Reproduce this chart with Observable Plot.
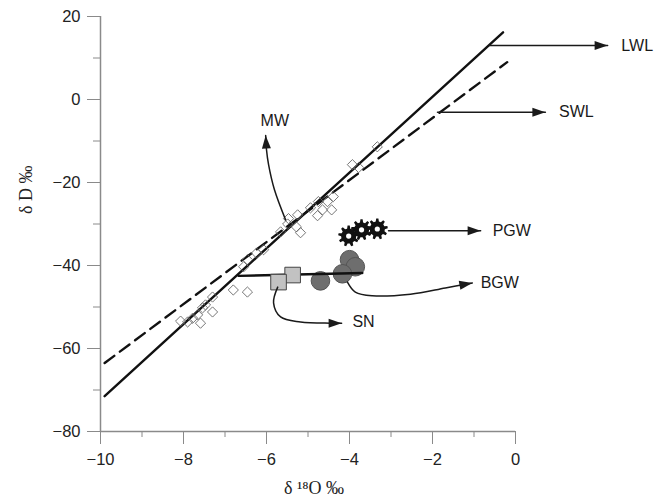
<!DOCTYPE html>
<html>
<head>
<meta charset="utf-8">
<script src="https://cdn.jsdelivr.net/npm/d3@7"></script>
<script src="https://cdn.jsdelivr.net/npm/@observablehq/plot@0.6"></script>
<style>
  html, body { margin: 0; padding: 0; background: #fff; }
  #chart g[aria-label$="tick label"] { font-size: 16.5px; }
</style>
</head>
<body>
<div id="chart"></div>
<script>
// ---------- data ----------
const xTicksMajor = [-10, -8, -6, -4, -2, 0];
const xTicksMinor = [-9, -7, -5, -3, -1];
const yTicksMajor = [20, 0, -20, -40, -60, -80];
const yTicksMinor = [10, -10, -30, -50, -70];

// precipitation / meteoric water samples (open diamonds)
const mwX = [-3.33, -3.93, -3.78, -4.39, -4.53, -4.75, -4.94, -4.65, -4.43, -4.77,
             -5.25, -5.47, -5.49, -5.28, -5.18, -5.66, -6.07, -6.24, -6.46, -6.55,
             -6.80, -6.46, -7.30, -7.47, -7.30, -7.54, -7.66, -7.78, -7.59, -7.90, -8.07];
const mwY = [-11.4, -15.7, -16.4, -23.4, -24.6, -24.6, -26.1, -26.6, -26.6, -28.0,
             -27.8, -28.7, -30.0, -30.7, -32.1, -31.9, -36.2, -37.0, -38.6, -40.3,
             -45.9, -46.4, -47.6, -49.5, -51.2, -50.2, -51.9, -52.7, -53.9, -53.6, -53.4];

// snow (grey squares)
const snX = [-5.37, -5.71];
const snY = [-42.3, -44.0];

// basin groundwater (dark circles)
const bgwX = [-4.00, -3.86, -4.17, -4.70];
const bgwY = [-38.6, -40.3, -42.0, -43.7];

// permafrost groundwater (gears)
const pgwX = [-4.02, -3.71, -3.33];
const pgwY = [-32.9, -31.4, -31.2];

// water lines
const lwlX = [-9.9, -0.3];
const lwlY = [-71.5, 16.2];
const swlX = [-9.9, -0.2];
const swlY = [-63.5, 9.0];
const mixX = [-6.67, -3.69];
const mixY = [-42.5, -41.8];

// callouts
const calloutNames = ["LWL", "SWL", "PGW", "BGW", "SN", "MW"];
const calloutLabelX = [2.55, 1.05, -0.55, -0.84, -3.93, -5.8];
const calloutLabelY = [13.0, -3.1, -31.6, -44.2, -53.6, -5.1];
const calloutAnchor = ["start", "start", "start", "start", "start", "middle"];
const calloutPathX = [
  [-0.63, 2.22],
  [-1.88, 0.72],
  [-3.06, -0.84],
  [-4.05, -3.86, -3.45, -2.53, -1.69, -1.04],
  [-5.73, -5.83, -5.66, -5.18, -4.46, -4.19],
  [-5.54, -5.81, -5.95, -6.00, -6.02]
];
const calloutPathY = [
  [13.0, 13.0],
  [-3.1, -3.1],
  [-31.6, -31.6],
  [-44.0, -46.4, -47.3, -46.9, -45.4, -44.2],
  [-45.2, -49.0, -52.4, -53.6, -53.9, -53.9],
  [-29.0, -21.7, -15.7, -12.1, -8.7]
];

// ---------- layout ----------
const W = 670, H = 504;
const mL = 100, mR = 155, mT = 16, mB = 73;
const xDomain = [-10, 0], yDomain = [-80, 20];
const kx = (W - mL - mR) / (xDomain[1] - xDomain[0]);
const ky = (H - mT - mB) / (yDomain[1] - yDomain[0]);

// ---------- custom symbols ----------
function arrowHead(angle) {
  return {
    draw(ctx) {
      const L = 13, w = 4.5;
      const c = Math.cos(angle), s = Math.sin(angle);
      const bx = -L * c, by = -L * s;
      ctx.moveTo(0, 0);
      ctx.lineTo(bx - w * s, by + w * c);
      ctx.lineTo(bx + w * s, by - w * c);
      ctx.closePath();
    }
  };
}
const gear = {
  draw(ctx, size) {
    const R = Math.sqrt(size / Math.PI);
    const r0 = R * 0.72;
    const n = 9, w = Math.PI / n;
    for (let i = 0; i < n; i++) {
      const a = i * 2 * Math.PI / n - Math.PI / 2;
      const pts = [[a - 0.6 * w, r0], [a - 0.3 * w, R], [a + 0.3 * w, R], [a + 0.6 * w, r0]];
      pts.forEach(([t, r], j) => {
        const px = r * Math.cos(t), py = r * Math.sin(t);
        if (i === 0 && j === 0) ctx.moveTo(px, py); else ctx.lineTo(px, py);
      });
    }
    ctx.closePath();
  }
};

// ---------- marks ----------
const sansFont = "Liberation Sans, Arial, Helvetica, sans-serif";
const serifFont = "Liberation Serif, Times New Roman, serif";
const ink = "#1a1a1a";

const calloutMarks = calloutNames.flatMap((name, i) => {
  const px = calloutPathX[i], py = calloutPathY[i];
  const n = px.length;
  const pts = d3.zip(px, py);
  const ang = Math.atan2(-(py[n - 1] - py[n - 2]) * ky, (px[n - 1] - px[n - 2]) * kx);
  return [
    Plot.line(pts, {curve: n > 2 ? "catmull-rom" : "linear", stroke: ink, strokeWidth: 1.5}),
    Plot.dot([pts[n - 1]], {symbol: arrowHead(ang), r: 5, fill: ink, stroke: "none"}),
    Plot.text([name], {x: [calloutLabelX[i]], y: [calloutLabelY[i]], text: d => d,
      textAnchor: calloutAnchor[i], fontSize: 16, fill: ink, fontFamily: sansFont})
  ];
});

const chart = Plot.plot({
  width: W,
  height: H,
  marginLeft: mL, marginRight: mR, marginTop: mT, marginBottom: mB,
  x: {domain: xDomain, axis: null},
  y: {domain: yDomain, axis: null},
  style: {fontFamily: sansFont, fontSize: "16px", background: "#fff", overflow: "visible"},
  marks: [
    // axis ticks
    Plot.axisY({ticks: yTicksMinor, tickSize: 7, tickFormat: () => "", stroke: "#8a8a8a", label: null}),
    Plot.axisY({ticks: yTicksMajor, tickSize: 13, tickFormat: () => "", stroke: "#8a8a8a", label: null}),
    Plot.axisY({ticks: yTicksMajor, tickSize: 0, tickPadding: 20, fill: "#222", fontSize: 16.5, label: null}),
    Plot.axisX({ticks: xTicksMinor, tickSize: 6, tickFormat: () => "", stroke: "#8a8a8a", label: null}),
    Plot.axisX({ticks: xTicksMajor, tickSize: 13, tickFormat: () => "", stroke: "#8a8a8a", label: null}),
    Plot.axisX({ticks: xTicksMajor, tickSize: 0, tickPadding: 22, fill: "#222", fontSize: 16.5, label: null}),
    Plot.ruleX([xDomain[0]], {stroke: "#8a8a8a", strokeWidth: 1.5}),
    Plot.ruleY([yDomain[0]], {stroke: "#8a8a8a", strokeWidth: 1.5}),
    // axis titles
    Plot.text(["δ ¹⁸O ‰"], {frameAnchor: "bottom", dy: 62, dx: 6, text: d => d,
      fontFamily: serifFont, fontSize: 18, fill: "#222"}),
    Plot.text(["δ D ‰"], {frameAnchor: "left", dx: -74, dy: -10, rotate: -90, text: d => d,
      fontFamily: serifFont, fontSize: 18, fill: "#222"}),
    // water lines
    Plot.line(d3.zip(lwlX, lwlY), {stroke: "#111", strokeWidth: 2.4}),
    Plot.line(d3.zip(swlX, swlY), {stroke: "#111", strokeWidth: 2.4, strokeDasharray: "12,7"}),
    // samples
    Plot.dot(d3.zip(mwX, mwY), {symbol: "diamond2", r: 4.6, fill: "none", stroke: "#666", strokeWidth: 0.9}),
    Plot.dot(d3.zip(bgwX, bgwY), {symbol: "circle", r: 9.3, fill: "#6e6e6e", stroke: "#555", strokeWidth: 1}),
    Plot.line(d3.zip(mixX, mixY), {stroke: "#111", strokeWidth: 2.4}),
    Plot.dot(d3.zip(snX, snY), {symbol: "square", r: 8.8, fill: "#c2c2c2", stroke: "#444", strokeWidth: 1}),
    Plot.dot(d3.zip(pgwX, pgwY), {symbol: gear, r: 10.5, fill: "#111", stroke: "none"}),
    Plot.dot(d3.zip(pgwX, pgwY), {r: 2.6, fill: "#fff", stroke: "none"}),
    // callouts
    ...calloutMarks
  ]
});
document.getElementById("chart").appendChild(chart);
</script>
</body>
</html>
